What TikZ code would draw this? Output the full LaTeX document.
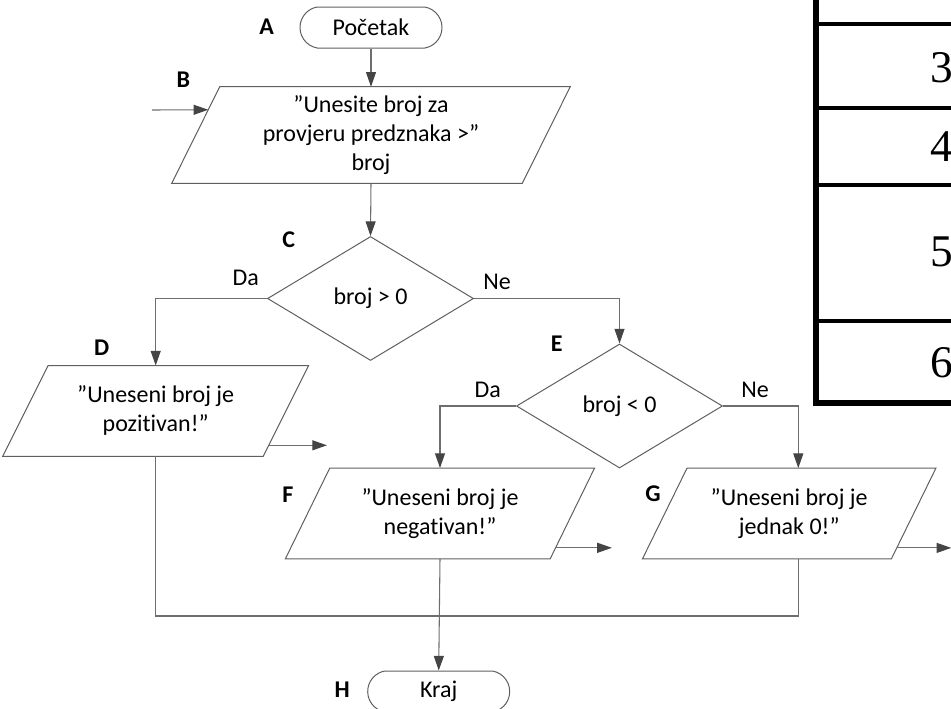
\documentclass[tikz,border=0pt]{standalone}
\usepackage{fontspec}
\setmainfont{Carlito}[Ligatures=NoCommon]
\newfontfamily\numfont{Liberation Serif}
\usetikzlibrary{shapes.geometric,shapes.misc,arrows.meta,calc}

\definecolor{shapegray}{HTML}{5F5F5F}
\definecolor{linegray}{HTML}{6E6E6E}
\definecolor{tipgray}{HTML}{454545}

% outline of an input/output box around a rectangular node, slanted by #2 at each end
\newcommand{\ioframe}[2]{%
  \draw[shp] ($(#1.north west)+(#2,0)$) -- ($(#1.north east)+(#2,0)$)
    -- ($(#1.south east)+(-#2,0)$) -- ($(#1.south west)+(-#2,0)$) -- cycle;}

\begin{document}
\begin{tikzpicture}[x=0.75pt,y=-0.75pt,
  txt/.style={font=\fontsize{18}{21.75}\selectfont, align=center, text=black},
  lbl/.style={font=\fontsize{18}{21}\selectfont\bfseries, inner sep=0pt, text=black},
  shp/.style={draw=shapegray, line width=0.75pt},
  conn/.style={draw=linegray, line width=0.8pt},
  arr/.style={conn, -{Triangle[length=11pt,width=7.5pt,color=tipgray]}},
  term/.style={txt, shp, rounded rectangle, rounded rectangle arc length=160,
    minimum width=106.5pt, minimum height=30.75pt, inner sep=0pt},
  decision/.style={txt, shp, diamond, minimum width=154.5pt, minimum height=93pt, inner sep=0pt},
  iobox/.style={txt, inner sep=0pt},
  tline/.style={draw=black, line width=3pt},
  digit/.style={font=\numfont\fontsize{34}{40}\selectfont, anchor=west, inner sep=0pt}
]
\useasboundingbox (0,0) rectangle (951,708);

% ---- flowchart blocks ----
\node[term] (A) at (371,27.5) {Početak};
\node[iobox, minimum width=262.5pt, minimum height=72pt] (B) at (371,135)
  {”Unesite broj za\\provjeru predznaka >”\\broj};
\ioframe{B}{24}
\node[decision] (C) at (370.5,298.5) {broj > 0};
\node[iobox, minimum width=195pt, minimum height=67.7pt] (D) at (155.7,410.9)
  {”Uneseni broj je\\pozitivan!”};
\ioframe{D}{22.7}
\node[decision] (E) at (619.5,406) {broj < 0};
\node[iobox, minimum width=198.2pt, minimum height=67.7pt] (F) at (440,513.4)
  {”Uneseni broj je\\negativan!”};
\ioframe{F}{22.2}
\node[iobox, minimum width=186.3pt, minimum height=67.7pt] (G) at (789.2,513.5)
  {”Uneseni broj je\\jednak 0!”};
\ioframe{G}{22.3}
\node[term] (H) at (438.7,691.5) {Kraj};

% ---- block letters ----
\node[lbl] (lA) at (266.7,27) {A};
\node[lbl] (lB) at (183.3,80) {B};
\node[lbl] (lC) at (288.7,240) {C};
\node[lbl] (lD) at (101.7,347.3) {D};
\node[lbl] (lE) at (556.7,344) {E};
\node[lbl] (lF) at (288,495) {F};
\node[lbl] (lG) at (653,494) {G};
\node[lbl] (lH) at (342.3,690) {H};

% ---- branch answers ----
\node[txt, inner sep=0pt] (cda) at (245.7,278) {Da};
\node[txt, inner sep=0pt] (cne) at (497,282) {Ne};
\node[txt, inner sep=0pt] (eda) at (487.7,390) {Da};
\node[txt, inner sep=0pt] (ene) at (755,390) {Ne};

% ---- connectors ----
\coordinate (bin) at (152,110);
\coordinate (join) at (F.south |- 0,616);
\coordinate (gtop) at ($(G.north)+(9.1,0)$);
\coordinate (gbot) at ($(G.south)+(9.1,0)$);
\coordinate (dout) at ($(D.south east)+(41,-11)$);
\coordinate (fout) at ($(F.south east)+(39.5,-11)$);
\coordinate (gout) at ($(G.south east)+(37.6,-11)$);

\draw[arr] (A.south) -- (B.north);
\draw[arr] (bin) -- ($(B.north west)+(12.5,23)$);
\draw[arr] (B.south) -- (C.north);
\draw[arr] (C.west) -| (D.north);
\draw[arr] (C.east) -| (E.north);
\draw[arr] (E.west) -| (F.north);
\draw[arr] (E.east) -| (gtop);
\draw[arr] ($(D.south east)+(-17.2,-11)$) -- (dout);
\draw[arr] ($(F.south east)+(-16.8,-11)$) -- (fout);
\draw[arr] ($(G.south east)+(-16.9,-11)$) -- (gout);
\draw[conn] (D.south) |- (join);
\draw[conn] (gbot) |- (join);
\draw[arr] (F.south) -- (H.north);

% ---- table fragment ----
\draw[tline] (816,24) -- (960,24);
\draw[tline] (816,108) -- (960,108);
\draw[tline] (816,185) -- (960,185);
\draw[tline] (816,321) -- (960,321);
\draw[draw=black, line width=4.5pt, line join=miter] (816,-10) -- (816,403) -- (960,403);
\node[digit] (t3) at (930,68) {3};
\node[digit] (t4) at (930,147) {4};
\node[digit] (t5) at (930,252) {5};
\node[digit] (t6) at (930,363) {6};
\end{tikzpicture}
\end{document}
